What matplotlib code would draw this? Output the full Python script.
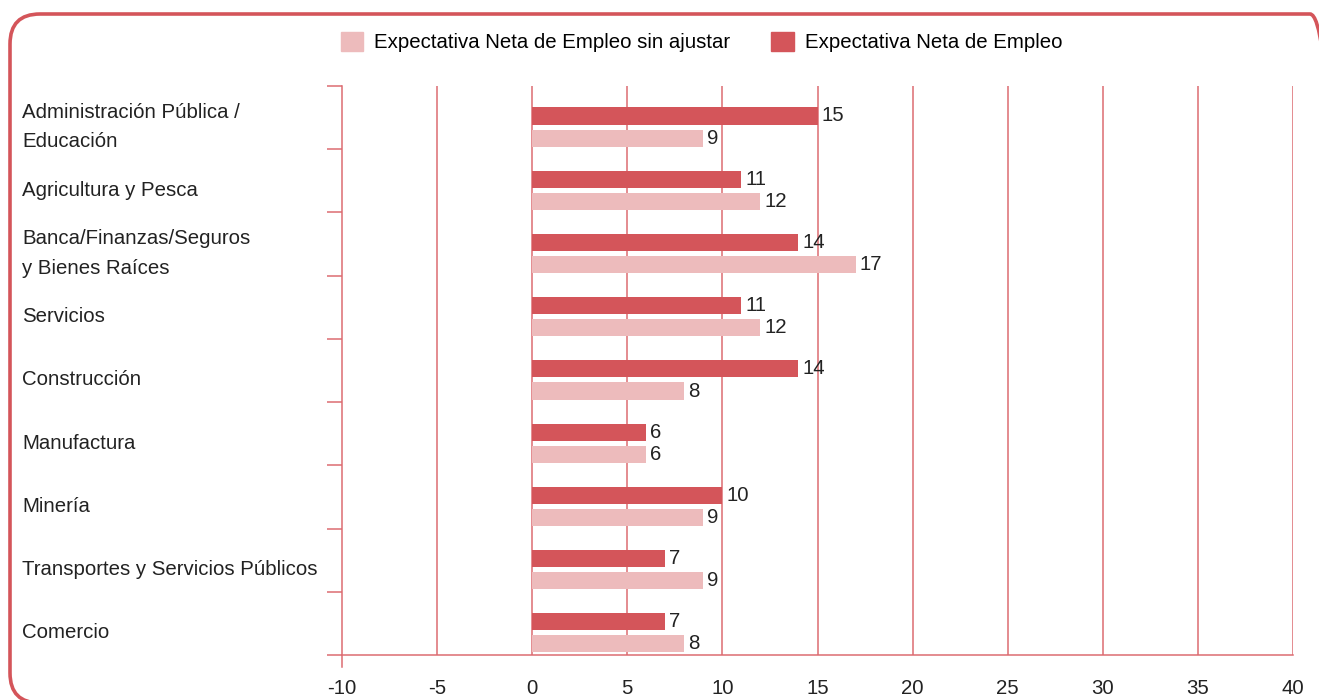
import matplotlib.pyplot as plt
import matplotlib.transforms as mtransforms
from matplotlib.patches import Patch, FancyBboxPatch
import numpy as np

plt.rcParams['font.family'] = ['Liberation Sans', 'DejaVu Sans']

categorias = ['Administración Pública /\nEducación', 'Agricultura y Pesca',
              'Banca/Finanzas/Seguros\ny Bienes Raíces', 'Servicios', 'Construcción',
              'Manufactura', 'Minería', 'Transportes y Servicios Públicos', 'Comercio']
neta = [15, 11, 14, 11, 14, 6, 10, 7, 7]
sin_ajustar = [9, 12, 17, 12, 8, 6, 9, 9, 8]
xticks = [-10, -5, 0, 5, 10, 15, 20, 25, 30, 35, 40]

rojo = '#d4555a'
rosa = '#edbbbc'
linea = '#dc6c71'
texto = '#222222'
fs = 14.7

fig = plt.figure(figsize=(13.19, 7), dpi=100)
ax = fig.add_axes([0.2593, 0.0643, 0.721, 0.8129])

y = np.arange(len(categorias)) + 0.15
h = 0.27
ax.barh(y - 0.175, neta, height=h, color=rojo, zorder=3)
ax.barh(y + 0.175, sin_ajustar, height=h, color=rosa, zorder=3)

for yi, v in zip(y - 0.175, neta):
    ax.text(v + 0.2, yi, str(v), va='center', ha='left', fontsize=fs, color=texto)
for yi, v in zip(y + 0.175, sin_ajustar):
    ax.text(v + 0.2, yi, str(v), va='center', ha='left', fontsize=fs, color=texto)

ax.set_xlim(-10, 40)
ax.set_ylim(len(categorias) - 0.5, -0.5)

# lineas verticales
for xv in xticks[1:]:
    ax.axvline(xv, color=linea, lw=1.1, zorder=1)

ax.set_xticks(xticks)
ax.set_xticklabels([str(t) for t in xticks])
ax.tick_params(axis='x', length=0, pad=17, labelsize=fs, labelcolor=texto)
ax.set_yticks(np.arange(-0.5, len(categorias), 1))
ax.set_yticklabels([])
ax.tick_params(axis='y', length=11, width=1.1, color=linea)

for s in ['top', 'right']:
    ax.spines[s].set_visible(False)
for s in ['left', 'bottom']:
    ax.spines[s].set_color(linea)
    ax.spines[s].set_linewidth(1.1)
ax.spines['left'].set_bounds(len(categorias) - 0.5 + 0.19, -0.5)

trans = mtransforms.blended_transform_factory(fig.transFigure, ax.transData)
for yi, c in zip(y, categorias):
    ax.text(0.0167, yi, c, transform=trans, ha='left', va='center', fontsize=fs,
            color=texto, linespacing=1.7)

handles = [Patch(color=rosa, label='Expectativa Neta de Empleo sin ajustar'),
           Patch(color=rojo, label='Expectativa Neta de Empleo')]
fig.legend(handles=handles, loc='center', bbox_to_anchor=(0.532, 0.94), ncol=2,
           frameon=False, fontsize=fs, handlelength=1.1, handleheight=1.1,
           columnspacing=2.0, handletextpad=0.55)

borde = FancyBboxPatch((0.1, -0.03), 13.3, 6.89, boxstyle='round,pad=0,rounding_size=0.3',
                       transform=fig.dpi_scale_trans, fill=False, edgecolor=rojo, lw=2.6,
                       clip_on=False)
fig.patches.append(borde)

fig.savefig('out.png', dpi=100)
